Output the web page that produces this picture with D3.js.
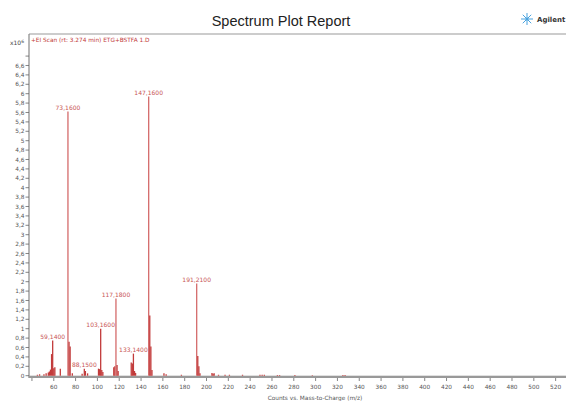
<!DOCTYPE html>
<html><head><meta charset="utf-8">
<script src="https://cdn.jsdelivr.net/npm/d3@7"></script>
<style>body{margin:0;background:#fff}svg{display:block}text{font-family:"DejaVu Sans",sans-serif}</style>
</head><body><svg id="c" width="566" height="401"></svg>
<script>
// m/z values and abundances (x10^6 counts)
const mz =     [45,47,51,53,55,56,57,58,59,60,61,66,73,74,75,77,86,88,89,91,101,102,103,104,105,115,116,117,118,119,131,132,133,134,135,147,148,149,150,161,163,177,191,192,193,194,205,206,207,211,217,221,233,249,251,253,265,267,281,297,325,327];
const counts = [0.02,0.03,0.03,0.05,0.07,0.09,0.13,0.46,0.75,0.16,0.18,0.15,5.62,0.72,0.62,0.05,0.04,0.15,0.1,0.05,0.15,0.14,1.0,0.12,0.08,0.18,0.2,1.64,0.23,0.1,0.28,0.26,0.47,0.1,0.06,5.94,1.28,0.62,0.12,0.05,0.03,0.02,1.96,0.42,0.2,0.05,0.06,0.04,0.05,0.02,0.02,0.02,0.02,0.02,0.02,0.02,0.015,0.015,0.015,0.01,0.015,0.015];
const peakLabels = [[59,"59,1400"],[73,"73,1600"],[88,"88,1500"],[103,"103,1600"],[117,"117,1800"],[133,"133,1400"],[147,"147,1600"],[191,"191,2100"]];
const xTicks = d3.range(40, 521, 20);
const yTicks = d3.range(0, 6.81, 0.2).map(v => +v.toFixed(1));

const svg = d3.select("#c");
const x = d3.scaleLinear().domain([37.3, 529.5]).range([29, 566]);
const y = d3.scaleLinear().domain([0, 7.27]).range([375.7, 34]);
const red = "#c23b3b";

// title
svg.append("text").attr("x", 281).attr("y", 26).attr("text-anchor", "middle")
  .style("font-family", "'Liberation Sans', Arial, sans-serif")
  .attr("font-size", 14.5).attr("fill", "#222").text("Spectrum Plot Report");
// Agilent logo
const lg = svg.append("g").attr("transform", "translate(527,19)");
for (let i = 0; i < 8; i++) {
  const a = i * Math.PI / 4;
  lg.append("line").attr("x1", 0).attr("y1", 0).attr("x2", 6 * Math.cos(a)).attr("y2", 6 * Math.sin(a))
    .attr("stroke", "#4aa3df").attr("stroke-width", 1);
}
lg.append("circle").attr("r", 1.5).attr("fill", "#4aa3df");
svg.append("text").attr("x", 537).attr("y", 22).attr("font-size", 7).attr("font-weight", "bold").attr("fill", "#333").text("Agilent");

// frame
svg.append("line").attr("x1", 29).attr("x2", 566).attr("y1", 34).attr("y2", 34).attr("stroke", "#999").attr("stroke-width", 1);
svg.append("line").attr("x1", 29).attr("x2", 29).attr("y1", 34).attr("y2", 378).attr("stroke", "#888").attr("stroke-width", 1.2);
svg.append("rect").attr("x", 29).attr("y", 375.7).attr("width", 537).attr("height", 2.3).attr("fill", "#999");

// y axis
const ya = svg.append("g");
yTicks.forEach(v => {
  ya.append("line").attr("x1", 25.5).attr("x2", 29).attr("y1", y(v)).attr("y2", y(v)).attr("stroke", "#666").attr("stroke-width", 0.8);
  if (v <= 6.6) ya.append("text").attr("x", 24.5).attr("y", y(v) + 2.2).attr("text-anchor", "end")
    .attr("font-size", 5.8).attr("fill", "#555").text(d3.format(".1f")(v).replace(".", ",").replace(/,0$/, ""));
});
const xl = svg.append("text").attr("x", 10).attr("y", 45).attr("font-size", 6).attr("fill", "#444").text("x10");
xl.append("tspan").attr("dy", -2.5).attr("font-size", 4.5).text("6");

// x axis
const xa = svg.append("g");
xTicks.forEach(v => {
  xa.append("line").attr("x1", x(v)).attr("x2", x(v)).attr("y1", 378).attr("y2", 381).attr("stroke", "#666").attr("stroke-width", 0.8);
  if (v >= 60) xa.append("text").attr("x", x(v)).attr("y", 388.5).attr("text-anchor", "middle")
    .attr("font-size", 5.8).attr("fill", "#555").text(v);
});
svg.append("text").attr("x", 315).attr("y", 400).attr("text-anchor", "middle").attr("font-size", 5.8).attr("fill", "#555")
  .text("Counts vs. Mass-to-Charge (m/z)");

// subtitle
svg.append("text").attr("x", 31).attr("y", 42).attr("font-size", 5.8).attr("fill", red)
  .text("+EI Scan (rt: 3.274 min) ETG+BSTFA 1.D");

// bars
svg.append("g").selectAll("line").data(mz.map((m, i) => [m, counts[i]])).join("line")
  .attr("x1", d => x(d[0])).attr("x2", d => x(d[0]))
  .attr("y1", y(0)).attr("y2", d => y(d[1]))
  .attr("stroke", d => d[1] > 1.5 ? "#d46b6b" : red).attr("stroke-width", 1.3);

// peak labels
const cmap = new Map(mz.map((m, i) => [m, counts[i]]));
svg.append("g").selectAll("text").data(peakLabels).join("text")
  .attr("x", d => x(d[0])).attr("y", d => y(cmap.get(d[0])) - 1.5).attr("text-anchor", "middle")
  .attr("font-size", 6).attr("fill", "#c85555").text(d => d[1]);
</script></body></html>
